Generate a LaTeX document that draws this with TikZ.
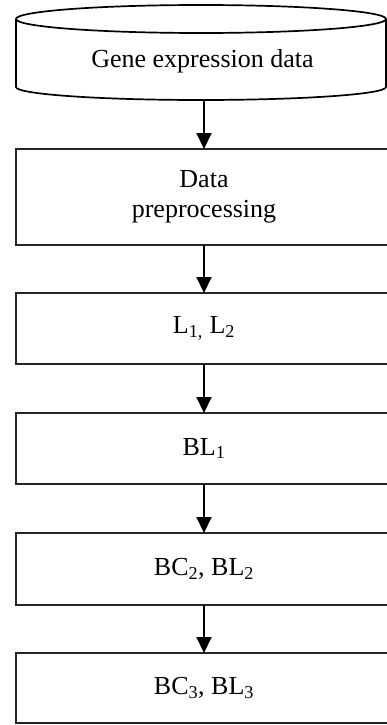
\documentclass[tikz,border=0pt]{standalone}
\usepackage{fontspec}
\setmainfont{Liberation Serif}
\usetikzlibrary{arrows.meta}
\tikzset{
  stage/.style={draw=black!85, line width=1.3pt, minimum width=376pt,
    minimum height=71pt, inner sep=0pt, outer sep=0pt, align=center,
    font=\fontsize{26}{30}\selectfont},
  cyl/.style={draw=black, line width=1.7pt},
  lbl/.style={inner sep=0pt, outer sep=0pt, font=\fontsize{26}{30}\selectfont},
  flow/.style={line width=2pt, -{Triangle[length=16pt,width=15pt]}}
}
\begin{document}
\begin{tikzpicture}[x=1pt,y=-1pt]
\useasboundingbox (0,0) rectangle (387,725);
\clip (0,0) rectangle (387,725);
\fill[white] (0,0) rectangle (387,725);

% data store drawn as a cylinder
\draw[cyl] (201,19) ellipse [x radius=185pt, y radius=14pt];
\draw[cyl] (16,19) -- (16,87) arc[start angle=180, end angle=360, x radius=185pt, y radius=13pt] -- (386,19);
\node[lbl] (db) at (202.5,61) {Gene expression data};
\coordinate (dbbot) at (204,100);

% processing stages
\node[stage, minimum height=96pt] (prep) at (204,197) {Data\\preprocessing};
\node[stage] (l12) at (204,328.5) {L\textsubscript{1,} L\textsubscript{2}};
\node[stage] (bl1) at (204,448.5) {BL\textsubscript{1}};
\node[stage, minimum height=72pt] (bl2) at (204,569) {BC\textsubscript{2}, BL\textsubscript{2}};
\node[stage, minimum height=70pt] (bl3) at (204,688) {BC\textsubscript{3}, BL\textsubscript{3}};

% flow arrows
\draw[flow] (dbbot) -- (prep.north);
\draw[flow] (prep.south) -- (l12.north);
\draw[flow] (l12.south) -- (bl1.north);
\draw[flow] (bl1.south) -- (bl2.north);
\draw[flow] (bl2.south) -- (bl3.north);
\end{tikzpicture}
\end{document}
